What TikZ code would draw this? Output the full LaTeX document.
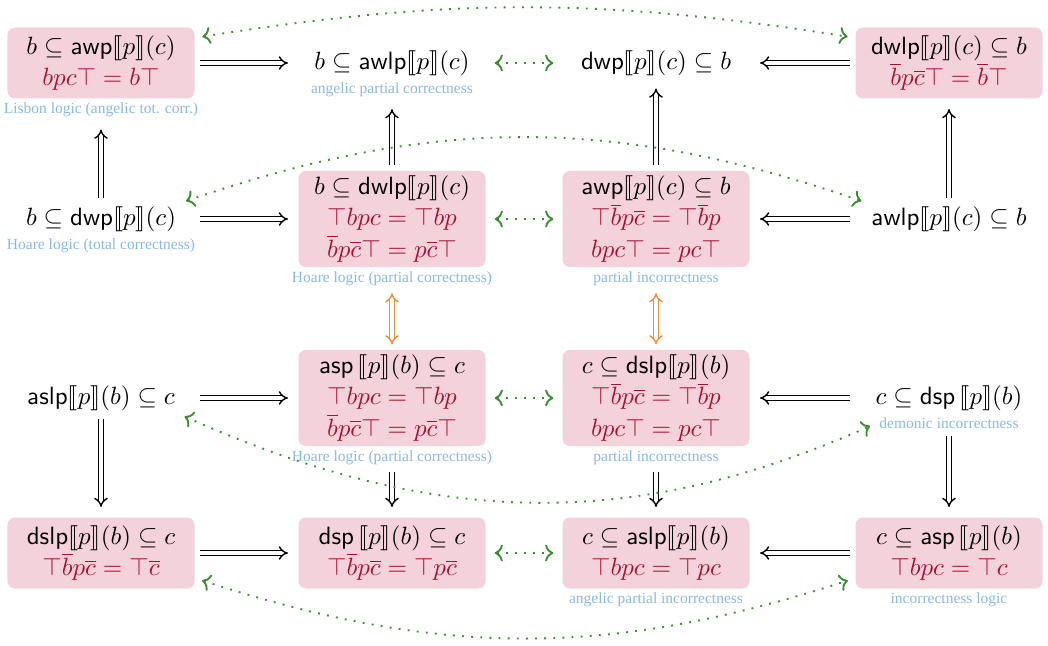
\documentclass[tikz,border=0pt]{standalone}
\usepackage{amsmath,amssymb,stmaryrd}
\usepackage{fontspec}
\newfontfamily\notefont{Liberation Serif}
\usetikzlibrary{arrows.meta,positioning}
\definecolor{boxpink}{HTML}{F3D2DB}
\definecolor{eqred}{HTML}{A8102E}
\definecolor{noteblue}{HTML}{88B8E8}
\definecolor{dualgreen}{HTML}{3C8C32}
\definecolor{swaporange}{HTML}{F58A3C}
\newcommand{\sem}[1]{\llbracket #1\rrbracket}
\newcommand{\eq}[1]{\textcolor{eqred}{$#1$}}
\newcommand{\nb}[1]{\overline{#1}}
\begin{document}
\begin{tikzpicture}[x=0.4pt,y=0.4pt,
    every node/.style={font=\fontsize{10}{12.5}\selectfont},
    tri/.style={fill=boxpink,rounded corners=3pt,minimum width=74.8pt,minimum height=28.4pt,align=center,inner sep=2pt},
    plain/.style={inner sep=1pt},
    note/.style={text=noteblue,font=\notefont\fontsize{6.2}{7}\selectfont,inner sep=0.8pt},
    impl/.style={double,double distance=1.3pt,line width=0.55pt,-{Implies},shorten >=4pt,shorten <=2pt},
    dual/.style={dualgreen,line width=0.75pt,dash pattern=on 0.75pt off 2.9pt,{To}-{To},shorten >=3pt,shorten <=3pt},
    swap/.style={swaporange,double,double distance=1.3pt,line width=0.55pt,{Implies}-{Implies},shorten >=2pt,shorten <=2pt}]
            \useasboundingbox (0,0) rectangle (1048,-646);

            \node[tri] (A1) at (101,-63) {$b\subseteq\mathsf{awp}\sem{p}(c)$\\\eq{bpc\top=b\top}};
            \node[note,below=0.6pt of A1] (A1n) {Lisbon logic (angelic tot. corr.)};
            \node[plain] (A2) at (392,-63) {$b\subseteq\mathsf{awlp}\sem{p}(c)$};
            \node[note,below=0.6pt of A2] (A2n) {angelic partial correctness};
            \node[plain] (A3) at (656,-63) {$\mathsf{dwp}\sem{p}(c)\subseteq b$};
            \node[tri] (A4) at (949,-63) {$\mathsf{dwlp}\sem{p}(c)\subseteq b$\\\eq{\nb{b}p\nb{c}\top=\nb{b}\top}};

            \node[plain] (B1) at (101,-219) {$b\subseteq\mathsf{dwp}\sem{p}(c)$};
            \node[note,below=0.6pt of B1] (B1n) {Hoare logic (total correctness)};
            \node[tri] (B2) at (392,-219) {$b\subseteq\mathsf{dwlp}\sem{p}(c)$\\\eq{\top bpc=\top bp}\\\eq{\nb{b}p\nb{c}\top=p\nb{c}\top}};
            \node[note,below=0.6pt of B2] (B2n) {Hoare logic (partial correctness)};
            \node[tri] (B3) at (656,-219) {$\mathsf{awp}\sem{p}(c)\subseteq b$\\\eq{\top\nb{b}p\nb{c}=\top\nb{b}p}\\\eq{bpc\top=pc\top}};
            \node[note,below=0.6pt of B3] (B3n) {partial incorrectness};
            \node[plain] (B4) at (949,-219) {$\mathsf{awlp}\sem{p}(c)\subseteq b$};

            \node[plain] (C1) at (101,-398) {$\mathsf{aslp}\sem{p}(b)\subseteq c$};
            \node[tri] (C2) at (392,-398) {$\mathsf{asp}\,\sem{p}(b)\subseteq c$\\\eq{\top bpc=\top bp}\\\eq{\nb{b}p\nb{c}\top=p\nb{c}\top}};
            \node[note,below=0.6pt of C2] (C2n) {Hoare logic (partial correctness)};
            \node[tri] (C3) at (656,-398) {$c\subseteq\mathsf{dslp}\sem{p}(b)$\\\eq{\top\nb{b}p\nb{c}=\top\nb{b}p}\\\eq{bpc\top=pc\top}};
            \node[note,below=0.6pt of C3] (C3n) {partial incorrectness};
            \node[plain] (C4) at (949,-398) {$c\subseteq\mathsf{dsp}\,\sem{p}(b)$};
            \node[note,below=0.6pt of C4] (C4n) {demonic incorrectness};

            \node[tri] (D1) at (101,-553) {$\mathsf{dslp}\sem{p}(b)\subseteq c$\\\eq{\top\nb{b}p\nb{c}=\top\nb{c}}};
            \node[tri] (D2) at (392,-553) {$\mathsf{dsp}\,\sem{p}(b)\subseteq c$\\\eq{\top\nb{b}p\nb{c}=\top p\nb{c}}};
            \node[tri] (D3) at (656,-553) {$c\subseteq\mathsf{aslp}\sem{p}(b)$\\\eq{\top bpc=\top pc}};
            \node[note,below=0.6pt of D3] (D3n) {angelic partial incorrectness};
            \node[tri] (D4) at (949,-553) {$c\subseteq\mathsf{asp}\,\sem{p}(b)$\\\eq{\top bpc=\top c}};
            \node[note,below=0.6pt of D4] (D4n) {incorrectness logic};

            % implications
            \draw[impl] (A1.east) -- (A2 -| B2.west);
            \draw[impl] (A4.west) -- (A3 -| B3.east);
            \draw[impl] (B1 -| A1.east) -- (B2.west);
            \draw[impl] (B4 -| A4.west) -- (B3.east);
            \draw[impl] (C1 -| D1.east) -- (C2.west);
            \draw[impl] (C4 -| D4.west) -- (C3.east);
            \draw[impl] (D1.east) -- (D2.west);
            \draw[impl] (D4.west) -- (D3.east);
            \draw[impl] (B1.north) -- (A1n.south);
            \draw[impl] (B2.north) -- (A2n.south);
            \draw[impl] (B3.north) -- (A3.south);
            \draw[impl] (B4.north) -- (A4.south);
            \draw[impl] (C1.south) -- (D1.north);
            \draw[impl] (C2n.south) -- (D2.north);
            \draw[impl] (C3n.south) -- (D3.north);
            \draw[impl] (C4n.south) -- (D4.north);

            \draw[swap] (B2n.south) -- (C2.north);
            \draw[swap] (B3n.south) -- (C3.north);

            % duals
            \draw[dual,shorten >=3.5pt,shorten <=3.5pt] (A2 -| B2.east) -- (A3 -| B3.west);
            \draw[dual,shorten >=3.5pt,shorten <=3.5pt] (B2.east) -- (B3.west);
            \draw[dual,shorten >=3.5pt,shorten <=3.5pt] (C2.east) -- (C3.west);
            \draw[dual,shorten >=3.5pt,shorten <=3.5pt] (D2.east) -- (D3.west);
            \draw[dual] (A1.15) to[out=9,in=171] (A4.165);
            \draw[dual] (B1.north east) to[out=19,in=161] (B4.north west);
            \draw[dual] (C1.south east) to[out=-24,in=-156] (C4n.west);
            \draw[dual] (D1.-15) to[out=-18,in=-162] (D4.195);
        \end{tikzpicture}
\end{document}
